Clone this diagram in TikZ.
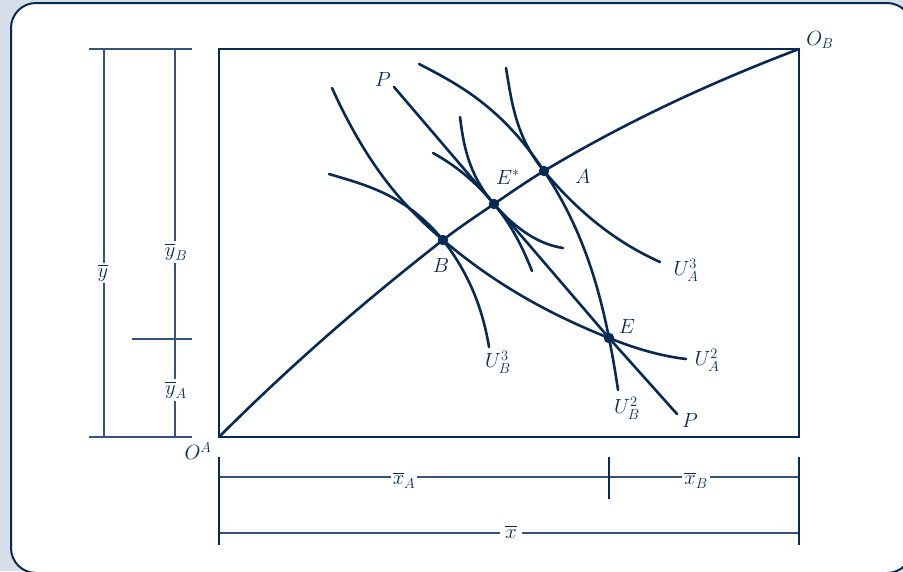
\RequirePackage{fix-cm}
\documentclass[tikz,border=0pt]{standalone}
\usepackage{amsmath}
\definecolor{navy}{RGB}{8,42,82}
\definecolor{dimc}{RGB}{55,85,120}
\definecolor{bgc}{RGB}{214,222,233}
\begin{document}
\begin{tikzpicture}[x=1pt,y=-1pt,
  font=\fontsize{20.5}{24}\selectfont,
  boxline/.style={navy, line width=1.5pt},
  dimline/.style={dimc, line width=1.3pt},
  curve/.style={navy, line width=2.6pt, line cap=round},
  lbl/.style={text=navy, inner sep=1pt},
  dimlbl/.style={text=navy, fill=white, inner sep=2pt},
  dot/.style={circle, fill=navy, inner sep=0pt, minimum size=10.5pt}]
\useasboundingbox (0,0) rectangle (903,571);
\fill[bgc] (0,0) rectangle (903,571);
\begin{scope}
\clip (0,0) rectangle (903,571);
\draw[navy, line width=2pt, fill=white, rounded corners=25pt] (11,3) rectangle (912,573);
\end{scope}

% main box
\coordinate (OA) at (219,437);
\coordinate (OB) at (799,49);
\draw[boxline] (219,49) rectangle (799,437);

% key points
\coordinate (B) at (443,240);
\coordinate (Es) at (494,204);
\coordinate (A) at (544,171);
\coordinate (E) at (609,338);
\coordinate (Ptop) at (394,87);
\coordinate (Pbot) at (677,414);

% curve ends
\coordinate (ua2s) at (332,88);   \coordinate (ua2e) at (686,359);
\coordinate (ub3s) at (329,174);  \coordinate (ub3e) at (489,347);
\coordinate (ua3s) at (506,68);   \coordinate (ua3e) at (660,262);
\coordinate (ub2s) at (419,64);   \coordinate (ub2e) at (618,390);
\coordinate (uasS) at (460,117);  \coordinate (uasE) at (563,248);
\coordinate (ubsS) at (433,153);  \coordinate (ubsE) at (532,271);

% contract curve
\draw[curve] (OA) .. controls (294,362) and (368,298.5) .. (B)
  .. controls (460,226.7) and (477,215.6) .. (Es)
  .. controls (511,192.4) and (527,181.2) .. (A)
  .. controls (629,120) and (714,81.3) .. (OB);

% price line
\draw[curve] (Ptop) -- (Es) -- (E) -- (Pbot);

% U_A^2 through B and E
\draw[curve] (ua2s) .. controls (369,169.4) and (406,208.5) .. (B)
  .. controls (498,286.8) and (554,316) .. (E)
  .. controls (635,348.4) and (660,355.9) .. (ua2e);
% U_B^3 through B
\draw[curve] (ub3s) .. controls (367,185.4) and (405,194.4) .. (B)
  .. controls (470.7,276) and (483,311) .. (ub3e);
% U_A^3 through A
\draw[curve] (ua3s) .. controls (511.7,102) and (515.7,137) .. (A)
  .. controls (582.7,217.4) and (621.3,244.6) .. (ua3e);
% U_B^2 through A and E
\draw[curve] (ub2s) .. controls (462,86) and (502.3,108.5) .. (A)
  .. controls (581.1,226.7) and (597.9,282.3) .. (E)
  .. controls (612.5,355.3) and (615.5,372.7) .. (ub2e);
% A's curve tangent at E*
\draw[curve] (uasS) .. controls (463.6,146) and (468.8,175) .. (Es)
  .. controls (517,230.5) and (540,244.5) .. (uasE);
% B's curve tangent at E*
\draw[curve] (ubsS) .. controls (453.3,164.2) and (473.7,179.6) .. (Es)
  .. controls (512.6,226.3) and (523.1,248.7) .. (ubsE);

% dots
\node[dot] (nB) at (B) {};
\node[dot] (nEs) at (Es) {};
\node[dot] (nA) at (A) {};
\node[dot] (nE) at (E) {};

% labels
\node[lbl] (lP1) at (383,79) {$P$};
\node[lbl] (lEs) at (508,177) {$E^{\ast}$};
\node[lbl] (lA) at (583,176) {$A$};
\node[lbl] (lB) at (441,265) {$B$};
\node[lbl] (lUA3) at (686,270) {$U^3_A$};
\node[lbl] (lE) at (627,326) {$E$};
\node[lbl] (lUB3) at (498,362) {$U^3_B$};
\node[lbl] (lUA2) at (707,360) {$U^2_A$};
\node[lbl] (lUB2) at (627,408) {$U^2_B$};
\node[lbl] (lP2) at (690,420) {$P$};
\node[lbl] (lOB) at (820,40) {$O_B$};
\node[lbl] (lOA) at (198,451) {$O^A$};

% left dimensions
\coordinate (yt1) at (89,49);  \coordinate (yt2) at (192,49);
\coordinate (yb1) at (89,437); \coordinate (yb2) at (192,437);
\coordinate (ym1) at (132,339); \coordinate (ym2) at (192,339);
\coordinate (y1t) at (104,49); \coordinate (y1b) at (104,437);
\coordinate (y2t) at (175,49); \coordinate (y2b) at (175,437);
\draw[dimline] (yt1) -- (yt2);
\draw[dimline] (yb1) -- (yb2);
\draw[dimline] (ym1) -- (ym2);
\draw[dimline] (y1t) -- (y1b);
\draw[dimline] (y2t) -- (y2b);
\node[dimlbl] (ly) at (103,273) {$\overline{y}$};
\node[dimlbl] (lyB) at (176,252) {$\overline{y}_B$};
\node[dimlbl] (lyA) at (176,390) {$\overline{y}_A$};

% bottom dimensions
\coordinate (xl1) at (219,457); \coordinate (xl2) at (219,545);
\coordinate (xr1) at (799,457); \coordinate (xr2) at (799,545);
\coordinate (xm1) at (609,457); \coordinate (xm2) at (609,499);
\coordinate (xa1) at (219,477); \coordinate (xa2) at (799,477);
\coordinate (xx1) at (219,533); \coordinate (xx2) at (799,533);
\draw[dimline] (xa1) -- (xa2);
\draw[dimline] (xx1) -- (xx2);
\draw[boxline] (xl1) -- (xl2);
\draw[boxline] (xr1) -- (xr2);
\draw[boxline] (xm1) -- (xm2);
\node[dimlbl] (lxA) at (404,480) {$\overline{x}_A$};
\node[dimlbl] (lxB) at (696,480) {$\overline{x}_B$};
\node[dimlbl, inner xsep=5pt] (lx) at (511,532) {$\overline{x}$};
\end{tikzpicture}
\end{document}
